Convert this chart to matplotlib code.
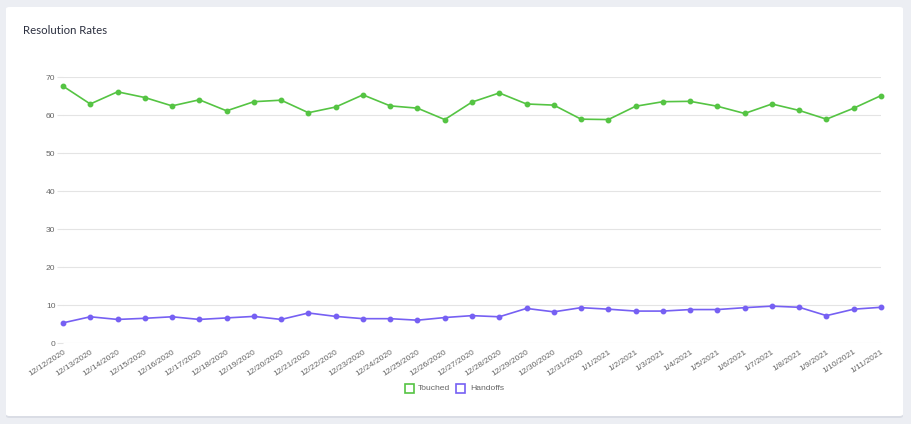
import matplotlib
matplotlib.use("Agg")
import matplotlib.pyplot as plt
from matplotlib.patches import FancyBboxPatch, Rectangle

dates = ["12/12/2020", "12/13/2020", "12/14/2020", "12/15/2020", "12/16/2020",
         "12/17/2020", "12/18/2020", "12/19/2020", "12/20/2020", "12/21/2020",
         "12/22/2020", "12/23/2020", "12/24/2020", "12/25/2020", "12/26/2020",
         "12/27/2020", "12/28/2020", "12/29/2020", "12/30/2020", "12/31/2020",
         "1/1/2021", "1/2/2021", "1/3/2021", "1/4/2021", "1/5/2021",
         "1/6/2021", "1/7/2021", "1/8/2021", "1/9/2021", "1/10/2021", "1/11/2021"]
touched = [67.6, 62.9, 66.1, 64.6, 62.4, 64.0, 61.1, 63.5, 63.9, 60.6,
           62.1, 65.3, 62.4, 61.8, 58.8, 63.4, 65.8, 62.9, 62.6, 58.9,
           58.8, 62.3, 63.5, 63.6, 62.3, 60.4, 62.9, 61.2, 58.9, 61.8, 65.1]
handoffs = [5.3, 6.9, 6.2, 6.5, 6.9, 6.2, 6.6, 7.0, 6.2, 7.9,
            7.0, 6.4, 6.4, 6.0, 6.7, 7.2, 6.9, 9.1, 8.2, 9.3,
            8.9, 8.4, 8.4, 8.8, 8.8, 9.3, 9.7, 9.4, 7.2, 8.9, 9.4]
yticks = [0, 10, 20, 30, 40, 50, 60, 70]

GREEN = "#55c443"
PURPLE = "#7660f3"
W, H = 911, 424

fig = plt.figure(figsize=(W / 100, H / 100), dpi=100)
fig.patch.set_facecolor("#eceef3")

shadow = FancyBboxPatch((6 / W, (H - 418) / H), 897 / W, 410 / H,
                        boxstyle="round,pad=0,rounding_size=0.004",
                        transform=fig.transFigure, facecolor="#dadde5",
                        edgecolor="none", zorder=0)
fig.patches.append(shadow)
card = FancyBboxPatch((6 / W, (H - 416) / H), 897 / W, 409 / H,
                      boxstyle="round,pad=0,rounding_size=0.004",
                      transform=fig.transFigure, facecolor="white",
                      edgecolor="none", zorder=1)
fig.patches.append(card)

fig.text(23 / W, 1 - 31 / H, "Resolution Rates", fontsize=8.2,
         family="Lato", color="#2c3040", va="center", ha="left", zorder=3)

ax = fig.add_axes([63 / W, 1 - 343 / H, (881 - 63) / W, (343 - 77) / H])
ax.set_facecolor("none")
ax.set_zorder(2)
x = list(range(len(dates)))
ax.plot(x, touched, color=GREEN, lw=1.2, marker="o", ms=3.2, clip_on=False, zorder=3)
ax.plot(x, handoffs, color=PURPLE, lw=1.2, marker="o", ms=3.2, clip_on=False, zorder=3)

ax.set_xlim(0, len(dates) - 1)
ax.set_ylim(0, 70)
ax.set_yticks(yticks)
ax.set_yticklabels([str(v) for v in yticks], family="Liberation Sans",
                   fontsize=6.1, color="#666666")
ax.set_xticks(x)
ax.set_xticklabels(dates, family="Liberation Sans", fontsize=6.1, color="#666666",
                   rotation=33, ha="right", rotation_mode="anchor")
ax.tick_params(axis="y", length=4, width=0.8, color="#e4e4e4", pad=1.5)
ax.tick_params(axis="x", length=0, pad=4)
ax.grid(axis="y", color="#e4e4e4", lw=0.8)
ax.set_axisbelow(True)
for s in ax.spines.values():
    s.set_visible(False)

ly = 1 - 388 / H
fig.patches.append(Rectangle((405 / W, ly - 4.5 / H), 9 / W, 9 / H, transform=fig.transFigure,
                             facecolor="white", edgecolor=GREEN, lw=1.2, zorder=3))
fig.text(418 / W, ly, "Touched", fontsize=6.1, family="Liberation Sans", color="#666666",
         va="center", ha="left", zorder=3)
fig.patches.append(Rectangle((456 / W, ly - 4.5 / H), 9 / W, 9 / H, transform=fig.transFigure,
                             facecolor="white", edgecolor=PURPLE, lw=1.2, zorder=3))
fig.text(470 / W, ly, "Handoffs", fontsize=6.1, family="Liberation Sans", color="#666666",
         va="center", ha="left", zorder=3)

fig.savefig("out.png", dpi=100, facecolor=fig.get_facecolor())
